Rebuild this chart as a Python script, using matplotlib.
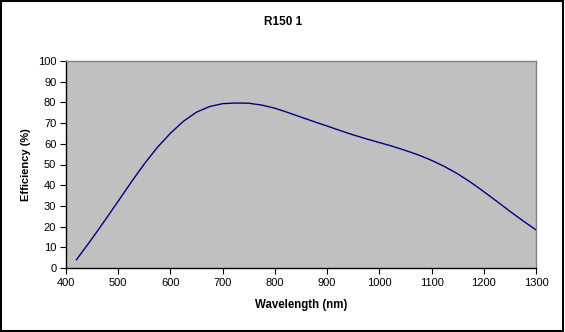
import matplotlib
matplotlib.use("Agg")
import matplotlib.pyplot as plt
from matplotlib.patches import Rectangle

plt.rcParams['font.family'] = ['Liberation Sans', 'DejaVu Sans']

# efficiency curve of grating R150 1
wavelength = [420, 440, 460, 480, 500, 525, 550, 575, 600, 625, 650, 675, 700,
              725, 750, 775, 800, 825, 850, 875, 900, 925, 950, 975, 1000,
              1025, 1050, 1075, 1100, 1125, 1150, 1175, 1200, 1225, 1250,
              1275, 1300]
efficiency = [4.0, 10.8, 17.8, 25.0, 32.3, 41.5, 50.3, 58.3, 65.1, 70.9, 75.3,
              78.0, 79.4, 79.7, 79.6, 78.7, 77.2, 75.1, 72.9, 70.7, 68.6, 66.4,
              64.3, 62.4, 60.6, 58.8, 56.8, 54.6, 52.0, 49.0, 45.5, 41.4, 36.9,
              32.2, 27.4, 22.8, 18.4]

f = plt.figure(figsize=(5.65, 3.32), dpi=100)
f.patches.append(Rectangle((0.002, 0.003), 0.995, 0.994, transform=f.transFigure,
                           fill=False, edgecolor='black', linewidth=1.5))

ax = f.add_axes([66/565, 64/332, 470/565, 207/332])
ax.set_facecolor('#C0C0C0')
ax.plot(wavelength, efficiency, color='#000080', linewidth=1.0)

ax.set_xlim(400, 1300)
ax.set_ylim(0, 100)
ax.set_xticks(range(400, 1301, 100))
ax.set_yticks(range(0, 101, 10))
ax.tick_params(direction='out', length=4, width=0.8, labelsize=8, pad=3)

for s in ['left', 'bottom']:
    ax.spines[s].set_color('black')
    ax.spines[s].set_linewidth(1.0)
for s in ['top', 'right']:
    ax.spines[s].set_color('#808080')
    ax.spines[s].set_linewidth(1.0)

ax.set_xlabel("Wavelength (nm)", fontsize=8.3, fontweight='bold', labelpad=8)
ax.set_ylabel("Efficiency (%)", fontsize=8, fontweight='bold', labelpad=5)
f.text(283/565, 1 - 22/332, "R150 1", ha='center', va='center',
       fontsize=8.5, fontweight='bold')

f.savefig("out.png", dpi=100)
